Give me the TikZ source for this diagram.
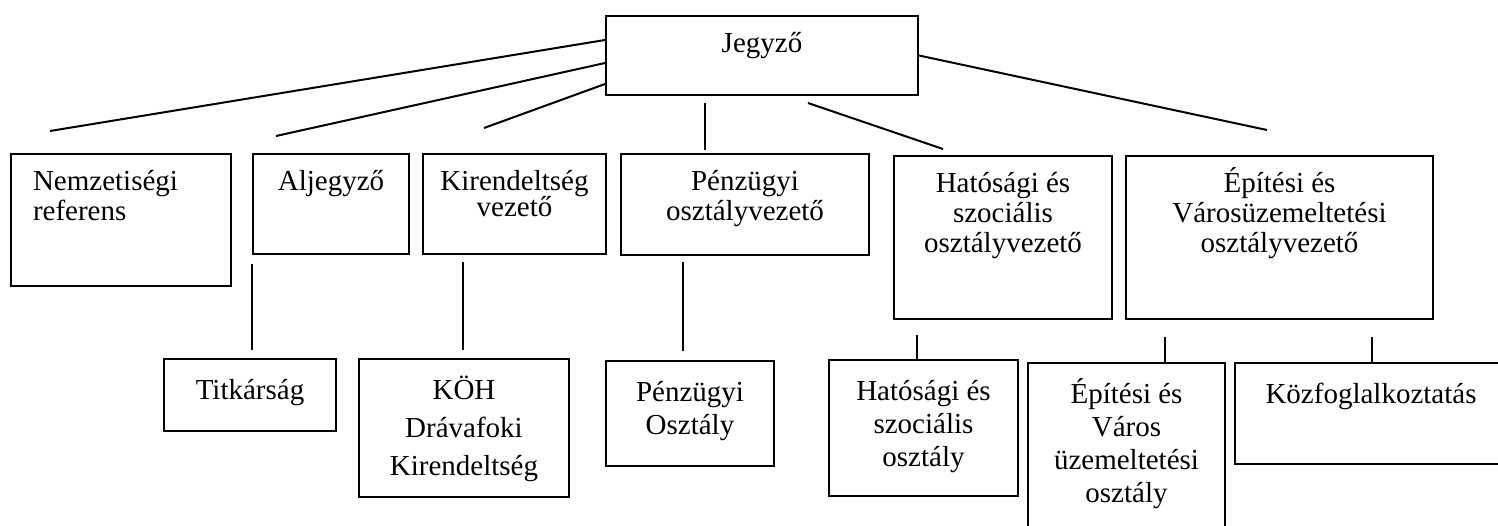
\documentclass[tikz,border=0pt]{standalone}
\usepackage{fontspec}
\setmainfont{Liberation Serif}
\usepackage{tikz}

\newlength{\felso}
\setlength{\felso}{18pt}
\tikzset{doboz/.style={draw, anchor=north west, inner sep=0pt,
  font=\fontsize{14.5pt}{15.2pt}\selectfont},
  alsodoboz/.style={doboz, font=\fontsize{14.5pt}{16.5pt}\selectfont}}
\newcommand{\dobozba}[4][\centering]{\parbox[t][#3][t]{#2}{#1\rule{0pt}{\felso}#4}}

\begin{document}
\begin{tikzpicture}[x=0.5pt,y=-0.5pt,line width=1pt]
\useasboundingbox (0,0) rectangle (1498,525);
% Jegyzo
\node[doboz] (jegyzo) at (605,15) {\dobozba{156pt}{39.5pt}{Jegyző}};
% first row
\node[doboz] (nemzet) at (10,153) {\dobozba[\raggedright\leftskip=11pt]{110pt}{66pt}{Nemzetiségi\\referens}};
\node[doboz] (aljegyzo) at (252,153) {\dobozba{78pt}{50pt}{Aljegyző}};
\node[doboz] (kirend) at (422,153) {\dobozba{91.5pt}{50pt}{Kirendeltség\\[-2pt]vezető}};
\node[doboz] (penzvez) at (620,153) {\dobozba{124pt}{50.5pt}{Pénzügyi\\osztályvezető}};
\node[doboz] (hatvez) at (893,155) {\dobozba{109pt}{81.5pt}{Hatósági és\\szociális\\osztályvezető}};
\node[doboz] (epitvez) at (1125,155) {\dobozba{153.5pt}{81.5pt}{Építési és\\Városüzemeltetési\\osztályvezető}};
% second row, a bit lower in the boxes
\setlength{\felso}{20pt}
\node[alsodoboz] (titk) at (163,358) {\dobozba{86pt}{36pt}{Titkárság}};
\node[alsodoboz] (koh) at (358,358) {\dobozba{105pt}{69pt}{KÖH\\[2.5pt]Drávafoki\\[2.5pt]Kirendeltség}};
\node[alsodoboz] (penzoszt) at (605,360) {\dobozba{84pt}{52.5pt}{Pénzügyi\\Osztály}};
\node[alsodoboz] (hatoszt) at (828,359) {\dobozba{94.5pt}{68pt}{Hatósági és\\szociális\\osztály}};
\node[alsodoboz] (epitoszt) at (1027,362) {\dobozba{98.5pt}{90pt}{Építési és\\Város\\üzemeltetési\\osztály}};
\node[alsodoboz] (kozfog) at (1234,362) {\dobozba{136pt}{50.5pt}{Közfoglalkoztatás}};

% free line ends
\coordinate (v1) at (50,131);
\coordinate (v2) at (276,136);
\coordinate (v3) at (484,128);
\coordinate (v4a) at (705,103);
\coordinate (v4b) at (705,150);
\coordinate (v5a) at (808,103);
\coordinate (v5b) at (943,149);
\coordinate (v6) at (1267,130);
\coordinate (t1) at (252,350);
\coordinate (k1) at (463,262);
\coordinate (k2) at (463,350);
\coordinate (p1) at (683,262);
\coordinate (p2) at (683,351);
\coordinate (h1) at (917,335);
\coordinate (e1) at (1165,337);
\coordinate (e2) at (1372,337);

% lines from Jegyzo
\draw ([yshift=7.75pt]jegyzo.west) -- (v1);
\draw ([yshift=-3.75pt]jegyzo.west) -- (v2);
\draw ([yshift=-14.25pt]jegyzo.west) -- (v3);
\draw (v4a) -- (v4b);
\draw (v5a) -- (v5b);
\draw (jegyzo.east) -- (v6);
% lines to the second row
\draw ([yshift=-4.5pt]aljegyzo.south west) -- (t1);
\draw (k1) -- (k2);
\draw (p1) -- (p2);
\draw (h1) -- (h1 |- hatoszt.north);
\draw (e1) -- (e1 |- epitoszt.north);
\draw (e2) -- (e2 |- kozfog.north);
\end{tikzpicture}
\end{document}
